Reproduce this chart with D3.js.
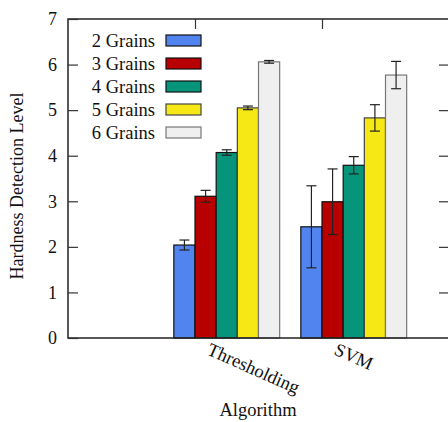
<!DOCTYPE html>
<html>
<head>
<meta charset="utf-8">
<script src="https://cdn.jsdelivr.net/npm/d3@7"></script>
<style>
  body { margin: 0; background: #fff; }
  svg text { font-family: "Liberation Serif", "DejaVu Serif", serif; fill: #111; }
</style>
</head>
<body>
<div id="container"></div>
<script>
// data
let algorithms = ['Thresholding', 'SVM'];
let series = ['2 Grains', '3 Grains', '4 Grains', '5 Grains', '6 Grains'];
let means = [
    [2.04, 3.11, 4.07, 5.05, 6.06],
    [2.44, 2.99, 3.79, 4.83, 5.77]
];
let errors = [
    [0.11, 0.13, 0.06, 0.04, 0.03],
    [0.90, 0.72, 0.19, 0.29, 0.30]
];
let yTicks = [0, 1, 2, 3, 4, 5, 6, 7];

let fills = ['#5284f0', '#b80000', '#06957a', '#f5e814', '#efefef'];
let strokes = ['#111', '#111', '#111', '#444', '#777'];

let W = 448, H = 422;
let plotLeft = 68, plotRight = 449, plotTop = 19, plotBottom = 338;
let serif = '"Liberation Serif", "DejaVu Serif", serif';

let viz = d3.select('#container')
    .append('svg')
    .attr('width', W)
    .attr('height', H)
    .attr('font-family', serif);

let x = d3.scaleLinear().domain([-1, 2]).range([plotLeft, plotRight]);
let y = d3.scaleLinear().domain([0, 7]).range([plotBottom, plotTop]);
let slot = 1 / 6;

// bars
let rows = [];
algorithms.forEach(function (a, i) {
    series.forEach(function (s, k) {
        rows.push({ i: i, k: k, v: means[i][k], e: errors[i][k] });
    });
});

let groups = viz.selectAll('.bar').data(rows).enter()
    .append('g')
    .attr('class', 'bar');

groups.append('rect')
    .attr('x', d => x(d.i + (d.k - 1) * slot))
    .attr('y', d => y(d.v))
    .attr('width', d => x(d.i + d.k * slot) - x(d.i + (d.k - 1) * slot))
    .attr('height', d => y(0) - y(d.v))
    .attr('fill', d => fills[d.k])
    .attr('stroke', d => strokes[d.k])
    .attr('stroke-width', 1.2);

// error bars
function cx(d) { return x(d.i + (d.k - 0.5) * slot); }
groups.append('line')
    .attr('x1', cx).attr('x2', cx)
    .attr('y1', d => y(d.v + d.e)).attr('y2', d => y(d.v - d.e))
    .attr('stroke', '#222').attr('stroke-width', 1.2);
groups.append('line')
    .attr('x1', d => cx(d) - 5).attr('x2', d => cx(d) + 5)
    .attr('y1', d => y(d.v + d.e)).attr('y2', d => y(d.v + d.e))
    .attr('stroke', '#222').attr('stroke-width', 1.2);
groups.append('line')
    .attr('x1', d => cx(d) - 5).attr('x2', d => cx(d) + 5)
    .attr('y1', d => y(d.v - d.e)).attr('y2', d => y(d.v - d.e))
    .attr('stroke', '#222').attr('stroke-width', 1.2);

// border
viz.append('path')
    .attr('d', 'M' + plotRight + ',' + plotTop + 'H' + plotLeft + 'V' + plotBottom + 'H' + plotRight)
    .attr('fill', 'none')
    .attr('stroke', '#222')
    .attr('stroke-width', 1.5);

// y ticks left and right (inward), labels left
let yAxis = d3.axisLeft(y).tickValues(yTicks).tickSize(-10).tickPadding(11).tickFormat(d3.format('d'));
let ya = viz.append('g')
    .attr('transform', 'translate(' + plotLeft + ',0)')
    .call(yAxis)
    .attr('font-family', serif)
    .attr('font-size', 18);
ya.select('.domain').remove();
ya.selectAll('line').attr('stroke', '#333').attr('stroke-width', 1.2);
ya.selectAll('text').attr('fill', '#111');

let yr = viz.append('g')
    .attr('transform', 'translate(' + (plotRight - 1) + ',0)')
    .call(d3.axisRight(y).tickValues(yTicks.slice(1, 7)).tickSize(-9).tickFormat(''));
yr.select('.domain').remove();
yr.selectAll('line').attr('stroke', '#333').attr('stroke-width', 1.2);

// top mirrored x ticks
let xt = viz.append('g')
    .attr('transform', 'translate(0,' + plotTop + ')')
    .call(d3.axisTop(x).tickValues([0, 1]).tickSize(-10).tickFormat(''));
xt.select('.domain').remove();
xt.selectAll('line').attr('stroke', '#333').attr('stroke-width', 1.2);

// x tick labels, rotated
viz.selectAll('.xlab').data(algorithms).enter()
    .append('text')
    .attr('class', 'xlab')
    .attr('transform', (d, i) => 'translate(' + (x(i) + 11) + ',' + 354 + ') rotate(24)')
    .attr('font-size', 18.5)
    .text(d => d);

// axis titles
viz.append('text')
    .attr('transform', 'translate(23,' + 186 + ') rotate(-90)')
    .attr('text-anchor', 'middle')
    .attr('font-size', 18)
    .text('Hardness Detection Level');

viz.append('text')
    .attr('x', 258).attr('y', 416)
    .attr('text-anchor', 'middle')
    .attr('font-size', 18.5)
    .text('Algorithm');

// legend
let legend = viz.selectAll('.legend').data(series).enter()
    .append('g')
    .attr('class', 'legend')
    .attr('transform', (d, k) => 'translate(0,' + (41 + k * 23) + ')');

legend.append('text')
    .attr('x', 155).attr('y', 6)
    .attr('text-anchor', 'end')
    .attr('font-size', 18.5)
    .text(d => d);

legend.append('rect')
    .attr('x', 166).attr('y', -6)
    .attr('width', 35).attr('height', 11)
    .attr('fill', (d, k) => fills[k])
    .attr('stroke', (d, k) => strokes[k])
    .attr('stroke-width', 1.2);
</script>
</body>
</html>
